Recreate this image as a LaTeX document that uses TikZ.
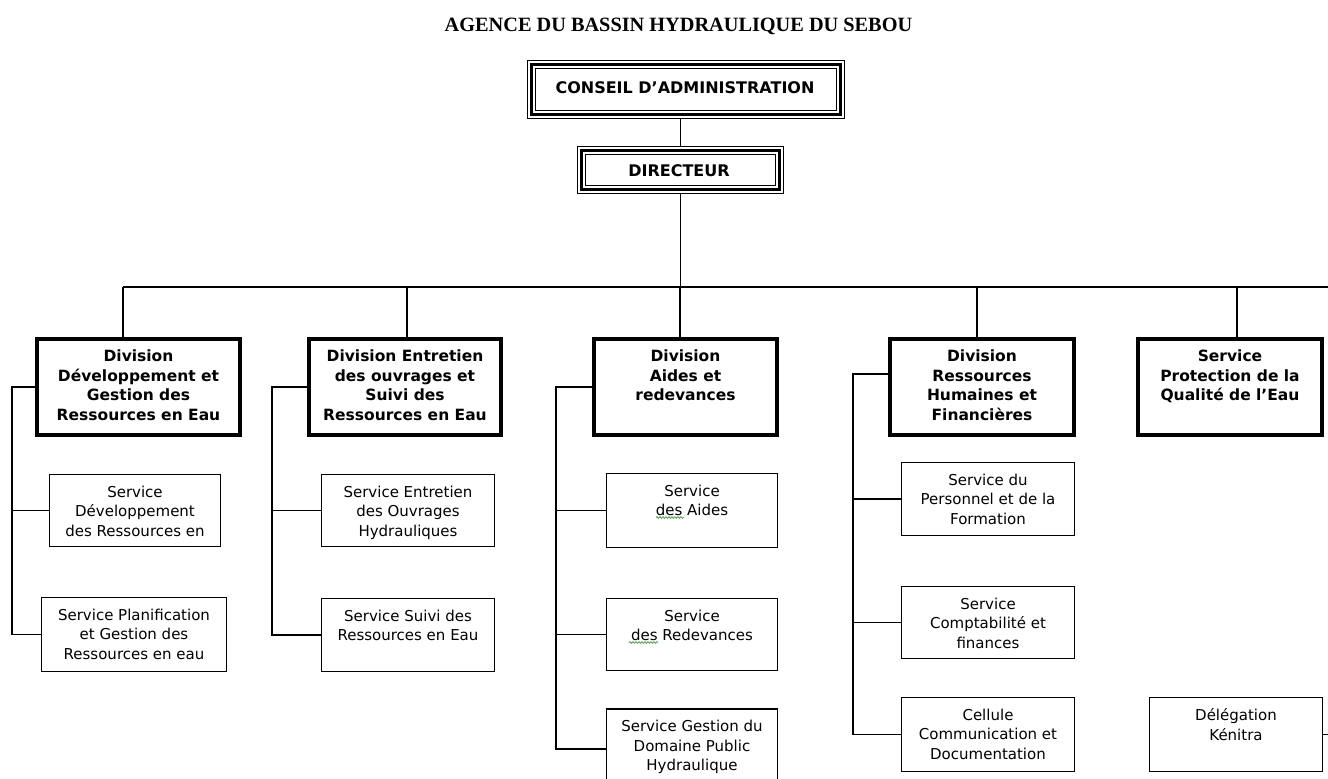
\documentclass[tikz,border=0pt]{standalone}
\usepackage{fontspec}
\setmainfont{DejaVu Sans}
\newfontfamily\titlefont{Liberation Serif}
\usetikzlibrary{decorations.pathmorphing}

\tikzset{
  divbox/.style={draw, line width=4pt, rectangle, inner sep=0pt, outer sep=0pt},
  servbox/.style={draw, line width=1.4pt, rectangle, inner sep=0pt, outer sep=0pt},
  headbox/.style={draw, line width=1pt, rectangle, inner sep=0pt, outer sep=0pt},
  headtext/.style={inner sep=0pt, font=\bfseries\fontsize{16}{18}\selectfont},
  divtext/.style={anchor=north, align=center, inner sep=0pt, font=\bfseries\fontsize{15.5}{19.5}\selectfont},
  servtext/.style={anchor=north, align=center, inner sep=0pt, font=\fontsize{15}{19.6}\selectfont},
  link/.style={line width=1.5pt},
  spell/.style={draw={rgb,255:red,90;green,160;blue,90}, line width=0.8pt, decorate,
    decoration={snake, segment length=3pt, amplitude=0.9pt}}
}

\begin{document}
\begin{tikzpicture}[x=1pt,y=-1pt]
\useasboundingbox (0,0) rectangle (1328,779);
\fill[white] (0,0) rectangle (1328,779);
\clip (0,0) rectangle (1328,779);

% title
\node[anchor=base, inner sep=0pt, font=\titlefont\bfseries\fontsize{20.3}{24}\selectfont] (title) at (678.5,31) {AGENCE DU BASSIN HYDRAULIQUE DU SEBOU};

% header boxes (triple border)
\node[headbox, minimum width=317pt, minimum height=58pt] (ca) at (686,89.5) {};
\draw[line width=3pt] ([shift={(4,4)}]ca.north west) rectangle ([shift={(-4,-4)}]ca.south east);
\draw[line width=1pt] ([shift={(8,8)}]ca.north west) rectangle ([shift={(-8,-8)}]ca.south east);
\node[headtext] (cat) at (685,88) {CONSEIL D’ADMINISTRATION};

\node[headbox, minimum width=206pt, minimum height=47pt] (dir) at (680.5,170) {};
\draw[line width=3pt] ([shift={(4,4)}]dir.north west) rectangle ([shift={(-4,-4)}]dir.south east);
\draw[line width=1pt] ([shift={(8,8)}]dir.north west) rectangle ([shift={(-8,-8)}]dir.south east);
\node[headtext] (dirt) at (679,171) {DIRECTEUR};

% division boxes
\node[divbox, minimum width=203pt, minimum height=96pt] (d1) at (138.5,387) {};
\node[divbox, minimum width=192pt, minimum height=96pt] (d2) at (405,387) {};
\node[divbox, minimum width=183pt, minimum height=96pt] (d3) at (685.5,387) {};
\node[divbox, minimum width=184pt, minimum height=96pt] (d4) at (982,387) {};
\node[divbox, minimum width=184pt, minimum height=96pt] (d5) at (1230,387) {};

\node[divtext] (d1t) at ([yshift=-11pt]d1.north) {Division\\Développement et\\Gestion des\\Ressources en Eau};
\node[divtext] (d2t) at ([yshift=-11pt]d2.north) {Division Entretien\\des ouvrages et\\Suivi des\\Ressources en Eau};
\node[divtext] (d3t) at ([yshift=-11pt]d3.north) {Division\\Aides et\\redevances};
\node[divtext] (d4t) at ([yshift=-11pt]d4.north) {Division\\Ressources\\Humaines et\\Financières};
\node[divtext] (d5t) at ([yshift=-11pt]d5.north) {Service\\Protection de la\\Qualité de l’Eau};

% service boxes
\node[servbox, minimum width=171pt, minimum height=72pt] (s11) at (135,510.5) {};
\node[servbox, minimum width=185pt, minimum height=74pt] (s12) at (134,634.5) {};
\node[servbox, minimum width=173pt, minimum height=72pt] (s21) at (408,510.5) {};
\node[servbox, minimum width=173pt, minimum height=73pt] (s22) at (408,635) {};
\node[servbox, minimum width=171pt, minimum height=74pt] (s31) at (692,510.5) {};
\node[servbox, minimum width=171pt, minimum height=72pt] (s32) at (692,634.5) {};
\node[servbox, minimum width=171pt, minimum height=80pt] (s33) at (692,749) {};
\node[servbox, minimum width=173pt, minimum height=73pt] (s41) at (988,499) {};
\node[servbox, minimum width=173pt, minimum height=72pt] (s42) at (988,622.5) {};
\node[servbox, minimum width=173pt, minimum height=74pt] (s43) at (988,734.5) {};
\node[servbox, minimum width=173pt, minimum height=74pt] (s51) at (1236,734.5) {};

\node[servtext] (s11t) at ([yshift=-11pt]s11.north) {Service\\Développement\\des Ressources en};
\node[servtext] (s12t) at ([yshift=-11pt]s12.north) {Service Planification\\et Gestion des\\Ressources en eau};
\node[servtext] (s21t) at ([yshift=-11pt]s21.north) {Service Entretien\\des Ouvrages\\Hydrauliques};
\node[servtext] (s22t) at ([yshift=-11pt]s22.north) {Service Suivi des\\Ressources en Eau};
\node[servtext] (s31t) at ([yshift=-11pt]s31.north) {Service\\des Aides};
\node[servtext] (s32t) at ([yshift=-11pt]s32.north) {Service\\des Redevances};
\node[servtext] (s33t) at ([yshift=-11pt]s33.north) {Service Gestion du\\Domaine Public\\Hydraulique};
\node[servtext] (s41t) at ([yshift=-11pt]s41.north) {Service du\\Personnel et de la\\Formation};
\node[servtext] (s42t) at ([yshift=-11pt]s42.north) {Service\\Comptabilité et\\finances};
\node[servtext] (s43t) at ([yshift=-11pt]s43.north) {Cellule\\Communication et\\Documentation};
\node[servtext] (s51t) at ([yshift=-11pt]s51.north) {Délégation\\Kénitra};

% spell-check squiggles
\draw[spell] ([shift={(-36,7)}]s31.center) -- ([shift={(-8,7)}]s31.center);
\draw[spell] ([shift={(-63,8)}]s32.center) -- ([shift={(-34,8)}]s32.center);

% top connectors
\coordinate (busL) at (123,287);
\coordinate (busR) at (1328,287);
\coordinate (b1) at (123,287);
\coordinate (b2) at (407,287);
\coordinate (b3) at (680,287);
\coordinate (b4) at (977,287);
\coordinate (b5) at (1237,287);
\draw[link] (dir.north) -- (dir.north |- ca.south);
\draw[link] (dir.south) -- (dir.south |- busL);
\draw[link] (busL) -- (busR);
\draw[link] (b1) -- (b1 |- d1.north);
\draw[link] (b2) -- (b2 |- d2.north);
\draw[link] (b3) -- (b3 |- d3.north);
\draw[link] (b4) -- (b4 |- d4.north);
\draw[link] (b5) -- (b5 |- d5.north);

% division 1 tree
\coordinate (t1) at (12,387);
\draw[link] (d1.west) -- (t1) -- (t1 |- s12.west) -- (s12.west);
\draw[link] (t1 |- s11.west) -- (s11.west);

% division 2 tree
\coordinate (t2) at (272,387);
\draw[link] (d2.west) -- (t2) -- (t2 |- s22.west) -- (s22.west);
\draw[link] (t2 |- s21.west) -- (s21.west);

% division 3 tree
\coordinate (t3) at (556,387);
\draw[link] (d3.west) -- (t3) -- (t3 |- s33.west) -- (s33.west);
\draw[link] (t3 |- s31.west) -- (s31.west);
\draw[link] (t3 |- s32.west) -- (s32.west);

% division 4 tree
\coordinate (t4) at (853,374);
\draw[link] (t4 -| d4.west) -- (t4) -- (t4 |- s43.west) -- (s43.west);
\draw[link] (t4 |- s41.west) -- (s41.west);
\draw[link] (t4 |- s42.west) -- (s42.west);

% delegation
\coordinate (r5) at (1328,733);
\draw[link] (s51.east) -- (s51.east -| r5);
\end{tikzpicture}
\end{document}
